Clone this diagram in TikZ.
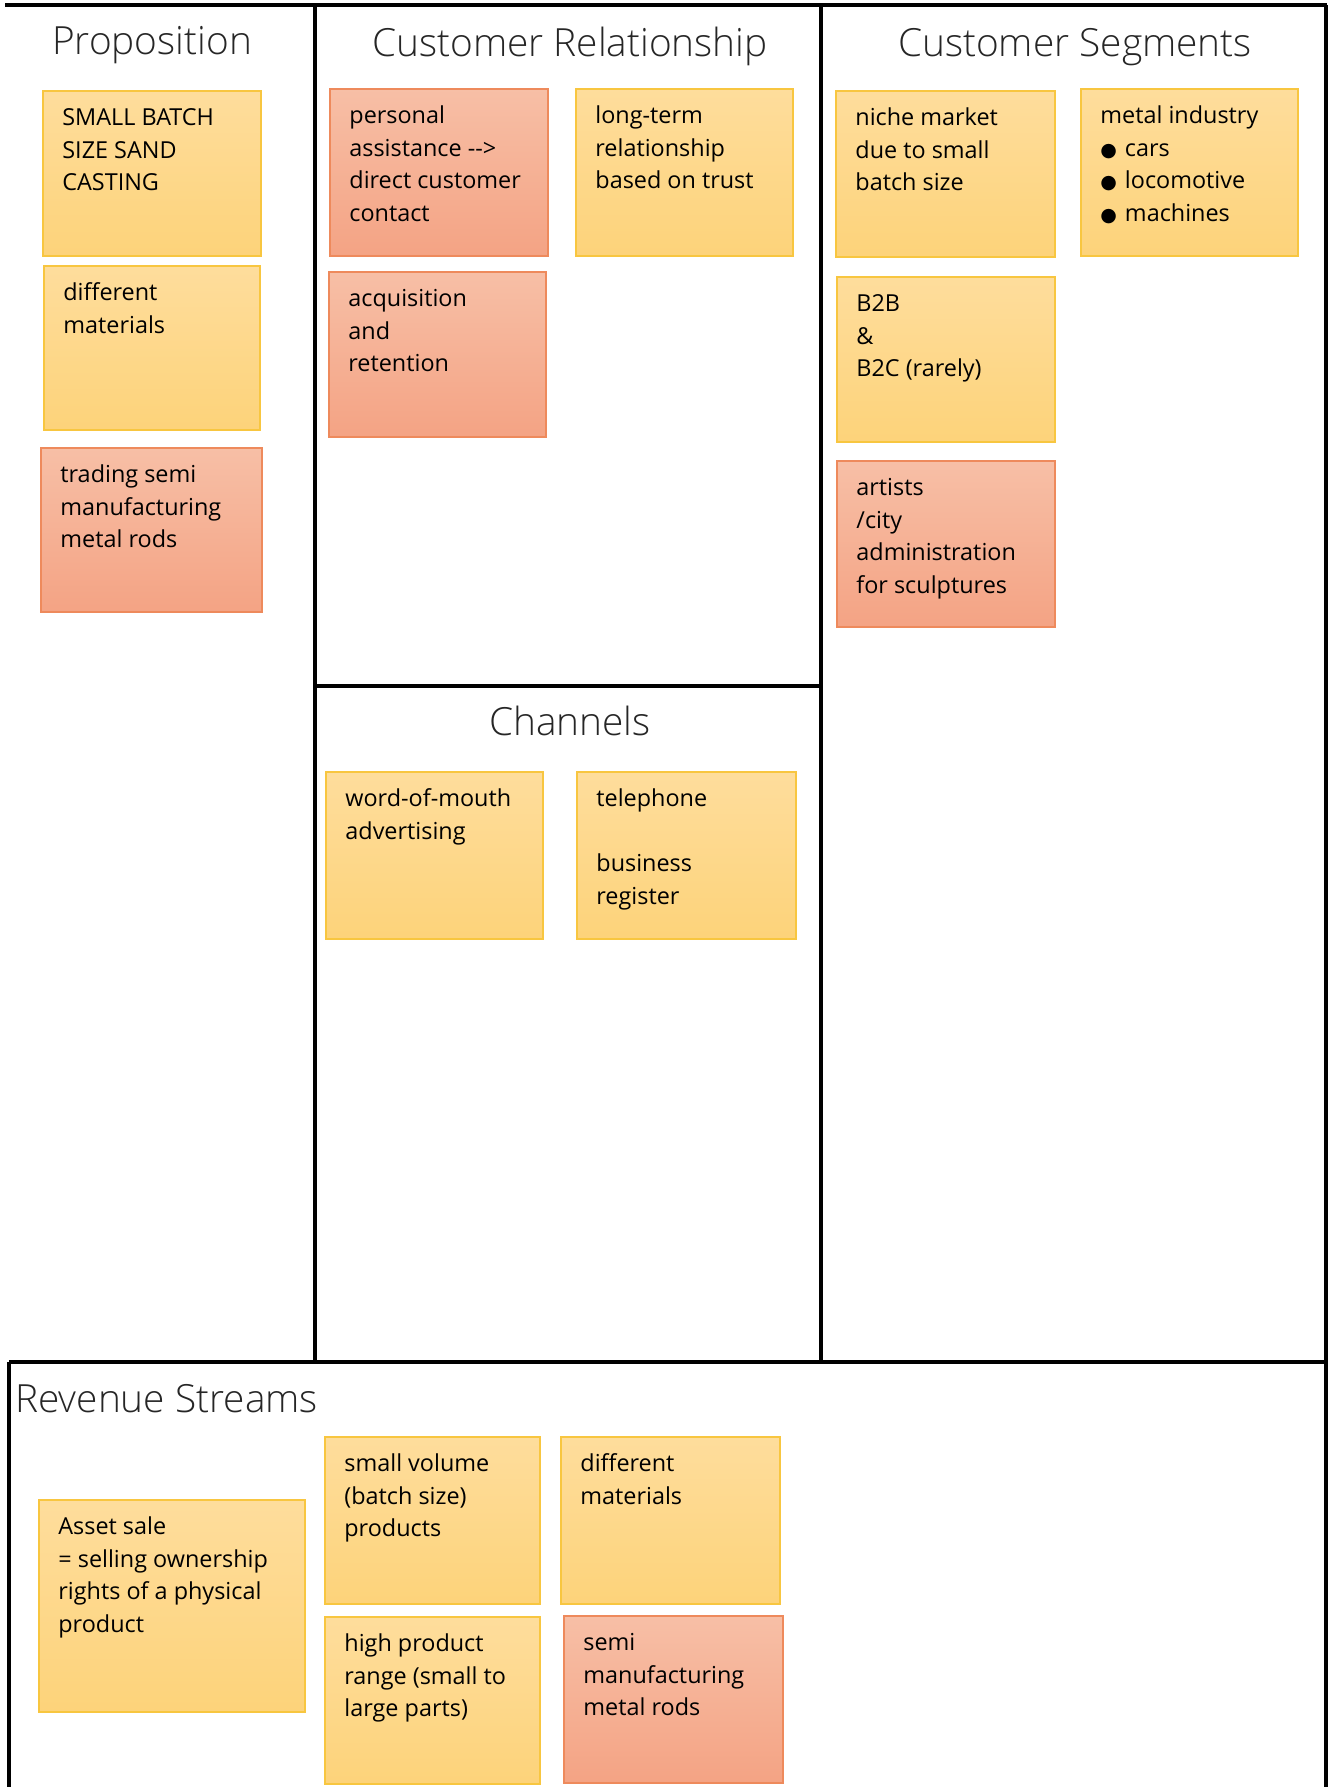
\documentclass[tikz,border=0pt]{standalone}
\usepackage{fontspec}
\setmainfont{Open Sans}
\newfontfamily\titlefont{Open Sans}[UprightFont={* Light}]
\newfontfamily\dejavu{DejaVu Sans}
\definecolor{ytop}{RGB}{254,221,156}
\definecolor{ybot}{RGB}{253,211,122}
\definecolor{yline}{RGB}{248,198,64}
\definecolor{rtop}{RGB}{247,191,166}
\definecolor{rbot}{RGB}{244,163,132}
\definecolor{rline}{RGB}{238,138,92}
\tikzset{
  frame/.style={line width=2pt, black},
  yellownote/.style={top color=ytop, bottom color=ybot, draw=yline, line width=0.6pt, inner sep=0pt, outer sep=0pt},
  rednote/.style={top color=rtop, bottom color=rbot, draw=rline, line width=0.6pt, inner sep=0pt, outer sep=0pt},
  notetext/.style={inner sep=0pt, align=left, font=\fontsize{11.7}{16.35}\selectfont, text=black},
  title/.style={inner sep=0pt, font=\titlefont\fontsize{19.4}{23}\selectfont, text=black!85},
}
\newcommand\stickynote[7]{%
  \pgfmathsetmacro\nw{(#5-#3)*0.5}\pgfmathsetmacro\nh{(#6-#4)*0.5}%
  \node[#2, minimum width=\nw pt, minimum height=\nh pt, anchor=north west] (#1) at (#3,#4) {};
  \node[notetext, anchor=north west] (#1t) at ([xshift=9.5pt,yshift=-8pt]#1.north west) {\rule{0pt}{9pt}#7};}
\newcommand\blt{{\dejavu\fontsize{9.5}{9.5}\selectfont ●}\hspace{4pt}}
\begin{document}
\begin{tikzpicture}[x=0.5pt,y=-0.5pt]
\useasboundingbox (0,0) rectangle (1332,1787);
\fill[white] (0,0) rectangle (1332,1787);
% frame
\draw[frame] (5,5) -- (1327,5);
\draw[frame] (315,5) -- (315,1362);
\draw[frame] (821,5) -- (821,1362);
\draw[frame] (1326,5) -- (1326,1787);
\draw[frame] (315,686) -- (821,686);
\draw[frame] (9,1362) -- (1326,1362);
\draw[frame] (9,1362) -- (9,1787);
% titles
\node[title, anchor=base] (tprop) at (152,55) {Proposition};
\node[title, anchor=base] (tcr) at (570,57) {Customer Relationship};
\node[title, anchor=base] (tcs) at (1075,57) {Customer Segments};
\node[title, anchor=base] (tch) at (570,735) {Channels};
\node[title, anchor=base west] (trs) at (15,1412) {Revenue Streams};
% Proposition
\stickynote{p1}{yellownote}{43}{91}{261}{256}{SMALL BATCH\\SIZE SAND\\CASTING}
\stickynote{p2}{yellownote}{44}{266}{260}{430}{different\\materials}
\stickynote{p3}{rednote}{41}{448}{262}{612}{trading semi\\manufacturing\\metal rods}
% Customer Relationship
\stickynote{c1}{rednote}{330}{89}{548}{256}{personal\\assistance -{}->\\direct customer\\contact}
\stickynote{c2}{yellownote}{576}{89}{793}{256}{long-term\\relationship\\based on trust}
\stickynote{c3}{rednote}{329}{272}{546}{437}{acquisition\\and\\retention}
% Customer Segments
\stickynote{s1}{yellownote}{836}{91}{1055}{257}{niche market\\due to small\\batch size}
\stickynote{s2}{yellownote}{1081}{89}{1298}{256}{metal industry\\\blt cars\\\blt locomotive\\\blt machines}
\stickynote{s3}{yellownote}{837}{277}{1055}{442}{B2B\\\&\\B2C (rarely)}
\stickynote{s4}{rednote}{837}{461}{1055}{627}{artists\\/city\\administration\\for sculptures}
% Channels
\stickynote{h1}{yellownote}{326}{772}{543}{939}{word-of-mouth\\advertising}
\stickynote{h2}{yellownote}{577}{772}{796}{939}{telephone\\[16.35pt]business\\register}
% Revenue Streams
\stickynote{r1}{yellownote}{39}{1500}{305}{1712}{Asset sale\\= selling ownership\\rights of a physical\\product}
\stickynote{r2}{yellownote}{325}{1437}{540}{1604}{small volume\\(batch size)\\products}
\stickynote{r3}{yellownote}{325}{1617}{540}{1784}{high product\\range (small to\\large parts)}
\stickynote{r4}{yellownote}{561}{1437}{780}{1604}{different\\materials}
\stickynote{r5}{rednote}{564}{1616}{783}{1783}{semi\\manufacturing\\metal rods}
\end{tikzpicture}
\end{document}
